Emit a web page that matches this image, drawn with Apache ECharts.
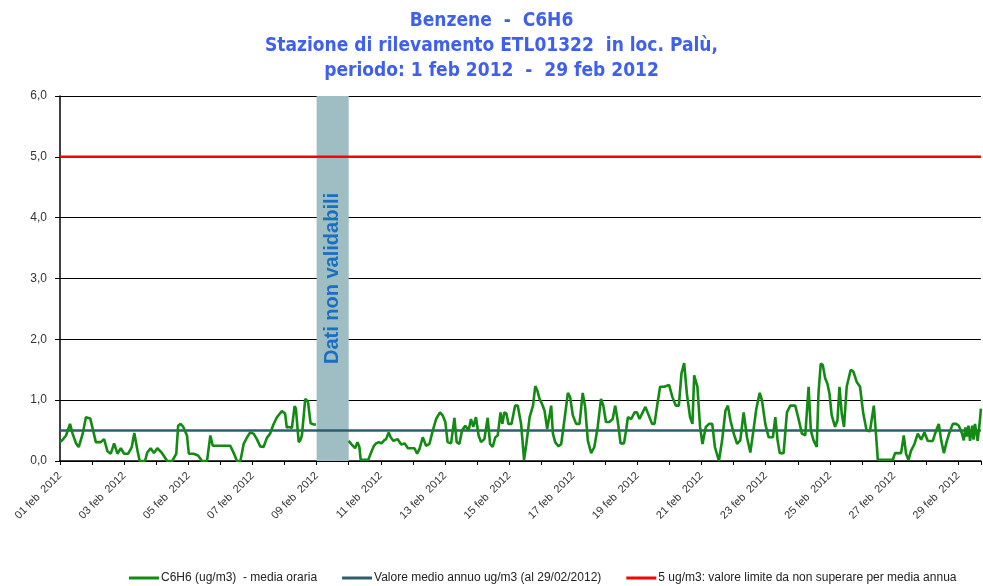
<!DOCTYPE html>
<html>
<head>
<meta charset="utf-8">
<script src="https://cdn.jsdelivr.net/npm/echarts@6/dist/echarts.min.js"></script>
<style>
html,body{margin:0;padding:0;background:#fff;}
#chart{width:983px;height:586px;}
</style>
</head>
<body>
<div id="chart"></div>
<script>
// ---- data (hours since 01 feb 2012 00:00, hourly mean C6H6 in ug/m3) ----
var hours = [0,2,4.5,7.5,9.4,12,14,17,19.4,22.6,24.8,26.8,30.5,33,35.5,38,40.5,43,45.5,48,51,53.7,55.6,58,59.6,63.6,65.3,67.8,70.3,72.8,76,80.2,84,87,88.4,90.2,92,93.4,95,96.4,100,103.3,106.3,110,112.5,114.3,127.4,130,132.4,135,137.4,140,142.3,144.8,147.3,149.8,152.3,154.8,157.2,159.7,162.3,166,168.4,169.7,171.5,173.5,175.5,176.5,178.6,180,181,183.5,185.5,187.5,190,191.5,
 200,
 216,218.3,220.8,222.6,224,225,230.7,232.4,234.9,236.5,238.6,240.5,242.5,244,245.9,247.4,249.5,252.5,255.3,257.8,260.3,265.2,267.2,269,271.4,273.9,276.4,278.9,281.4,284.3,286.3,288.3,290,292.6,295.1,296.8,298.8,300.8,303.2,305.7,307.5,309.2,311.2,313.2,315,317.5,320,321.8,323.7,325.7,327.5,329.6,331,332.5,334,335.5,337.8,340.5,342.5,345,347.2,348.9,351.4,353.9,355.6,357.1,358.8,360.6,362.5,364.5,366.3,367.5,368.8,370.5,373,375,377.5,380,381.7,383.7,386.2,388.7,391.1,392.9,394.9,397.4,399.8,402.3,404.8,406.5,408.5,411,413.5,415.4,417.2,418.5,419.4,422,423.7,424.9,427.4,429.9,431.6,433.6,435.5,438,440.5,443,444.8,447,449,452,455.7,458.2,460.7,463,465,467,469,471.4,473.2,474.5,476.9,478.9,480.7,483.2,485.6,488,490,493,495.4,497.9,499.7,501.6,504.1,506.6,509,511.5,514,516.5,518.5,521,523.5,525.2,527.7,530.2,533.4,535.2,536.9,538.5,541.4,543.9,546.4,550.1,552.6,555.1,557.6,560.1,561.8,563.8,566.2,567.5,569.2,570.7,572.5,574.2,575.7,577.4,579.9,581.7,583.2,584.9,586.6,588.6,591.6,593.6,596.1,598.6,601,603.5,606,608.9,610.7,611.9,623.1,624.8,629.3,631.3,633,634.8,636.8,639.3,641.8,644.3,646.8,649.3,653,655.5,657.5,659.3,661.3,663.3,665.5,668,670.5,672.5,674.9,676.2,677.5,678.5,679.7,680.9,682.5,683.5,684.6,686.6,688.3,689];
var c6h6 = [0.31,0.35,0.42,0.61,0.45,0.29,0.23,0.45,0.72,0.70,0.50,0.31,0.31,0.36,0.16,0.12,0.29,0.12,0.21,0.12,0.12,0.23,0.46,0.17,0,0,0.14,0.21,0.13,0.21,0.14,0,0,0.12,0.58,0.61,0.57,0.60,0.42,0.12,0.12,0.09,0,0,0.42,0.25,0.25,0.13,0,0,0.28,0.39,0.47,0.45,0.36,0.24,0.23,0.38,0.45,0.60,0.72,0.82,0.78,0.55,0.56,0.54,0.90,0.86,0.31,0.35,0.42,1.02,0.98,0.62,0.60,0.60,
 null,
 0.33,0.27,0.21,0.31,0.23,0.02,0.02,0.12,0.25,0.29,0.31,0.29,0.34,0.36,0.47,0.39,0.33,0.36,0.27,0.29,0.21,0.21,0.12,0.20,0.39,0.25,0.28,0.50,0.69,0.80,0.75,0.64,0.31,0.29,0.71,0.31,0.28,0.50,0.58,0.50,0.69,0.56,0.72,0.42,0.31,0.36,0.71,0.28,0.23,0.39,0.42,0.80,0.61,0.80,0.78,0.61,0.61,0.91,0.91,0.61,0.02,0.28,0.72,0.91,1.23,1.16,1.02,0.94,0.83,0.53,0.75,0.91,0.45,0.31,0.24,0.28,0.69,1.12,1.05,0.75,0.61,0.61,1.12,0.89,0.34,0.13,0.23,0.56,1.02,0.91,0.64,0.64,0.69,0.91,0.67,0.45,0.29,0.29,0.53,0.72,0.69,0.80,0.80,0.69,0.78,0.89,0.75,0.61,0.61,0.94,1.22,1.22,1.25,1.05,0.91,0.91,1.44,1.61,1.11,0.72,0.61,1.41,1.22,0.56,0.28,0.56,0.61,0.61,0.23,0,0.34,0.83,0.91,0.67,0.45,0.28,0.34,0.80,0.39,0.14,0.45,0.86,1.12,1.00,0.61,0.39,0.39,0.72,0.34,0.13,0.13,0.80,0.91,0.91,0.69,0.45,0.42,1.22,0.50,0.34,0.23,1.11,1.60,1.58,1.36,1.27,1.11,0.75,0.56,0.67,1.22,0.78,0.56,1.22,1.50,1.47,1.30,1.22,0.78,0.50,0.49,0.91,0.39,0.02,0.02,0.13,0.13,0.42,0.12,0.02,0.17,0.28,0.45,0.35,0.47,0.33,0.33,0.50,0.61,0.34,0.13,0.31,0.47,0.61,0.61,0.58,0.45,0.34,0.55,0.40,0.58,0.33,0.58,0.35,0.61,0.33,0.67,0.86];
var annualMean = 0.5;           // Valore medio annuo
var limitValue = 5;             // valore limite
var invalidFrom = 192, invalidTo = 216;  // 09 feb 2012: dati non validabili
var xMax = 689;
var yTicks = [0,1,2,3,4,5,6];

var seriesData = hours.map(function(h,i){ return [h, c6h6[i]]; });

var chart = echarts.init(document.getElementById('chart'), null, {renderer:'canvas'});
chart.setOption({
  animation:false,
  backgroundColor:'#ffffff',
  title:{
    text:'Benzene  -  C6H6\nStazione di rilevamento ETL01322  in loc. Palù,\nperiodo: 1 feb 2012  -  29 feb 2012',
    left:'center', top:4,
    textStyle:{color:'#3f5fef', fontSize:19, fontWeight:'bold', fontFamily:'DejaVu Sans Condensed', lineHeight:25}
  },
  legend:{
    left:124, top:567,
    itemWidth:30, itemHeight:3, itemGap:25,
    icon:'rect',
    textStyle:{fontSize:12, fontFamily:'Liberation Sans', color:'#222', padding:[0,0,0,-3]},
    data:['C6H6 (ug/m3)  - media oraria','Valore medio annuo ug/m3 (al 29/02/2012)','5 ug/m3: valore limite da non superare per media annua']
  },
  grid:{left:60, right:0, top:96, bottom:125, containLabel:false},
  xAxis:{
    type:'value', min:0, max:xMax, interval:24,
    axisLine:{show:true, lineStyle:{color:'#000', width:1.5}},
    axisTick:{show:true, length:4, lineStyle:{color:'#000'}},
    splitLine:{show:false},
    axisLabel:{
      rotate:45, margin:13, fontSize:11, fontFamily:'Liberation Sans', color:'#333',
      formatter:function(v){
        var d = v/24;
        if (Math.abs(d-Math.round(d))>1e-6) return '';
        d = Math.round(d);
        if (d%2!==0) return '';
        var n = d+1;
        return (n<10?'0':'')+n+' feb  2012';
      }
    }
  },
  yAxis:{
    type:'value', min:yTicks[0], max:yTicks[yTicks.length-1], interval:1,
    axisLine:{show:true, lineStyle:{color:'#000', width:1.5}},
    axisTick:{show:true, length:5, lineStyle:{color:'#000'}},
    splitLine:{show:true, lineStyle:{color:'#000', width:1.2}},
    axisLabel:{margin:13, fontSize:12, fontFamily:'Liberation Sans', color:'#333',
      formatter:function(v){ return v.toFixed(1).replace('.',','); }}
  },
  series:[
    {
      name:'C6H6 (ug/m3)  - media oraria', type:'line', data:seriesData,
      showSymbol:false, connectNulls:false, z:3,
      lineStyle:{color:'#138a13', width:2.6},
      itemStyle:{color:'#138a13'}
    },
    {
      name:'Valore medio annuo ug/m3 (al 29/02/2012)', type:'line',
      data:[[0,annualMean],[xMax,annualMean]], showSymbol:false, z:2,
      lineStyle:{color:'#2e5e6e', width:2.5}, itemStyle:{color:'#2e5e6e'}
    },
    {
      name:'5 ug/m3: valore limite da non superare per media annua', type:'line',
      data:[[0,limitValue],[xMax,limitValue]], showSymbol:false, z:2,
      lineStyle:{color:'#ff0000', width:2.5}, itemStyle:{color:'#ff0000'}
    },
    {
      type:'line', data:[], z:10, silent:true,
      markArea:{
        silent:true,
        itemStyle:{color:'#9fbec3', opacity:1},
        label:{show:true, position:'inside', rotate:90, formatter:'Dati non validabili',
          color:'#1a6fc0', fontSize:20, fontWeight:'bold', fontFamily:'Liberation Sans'},
        data:[[{xAxis:invalidFrom},{xAxis:invalidTo}]]
      }
    }
  ]
});
</script>
</body>
</html>
